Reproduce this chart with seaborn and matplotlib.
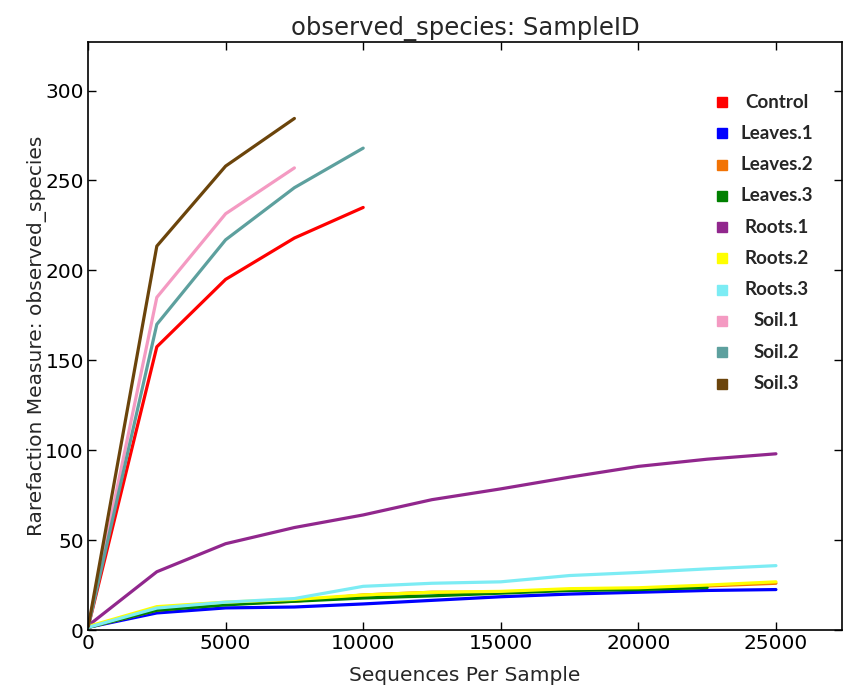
import pandas as pd
import seaborn as sns
import matplotlib.pyplot as plt

# rarefaction depths (sequences per sample)
depths = [10, 2500, 5000, 7500, 10000, 12500, 15000, 17500, 20000, 22500, 25000]

samples = ["Control", "Leaves.1", "Leaves.2", "Leaves.3", "Roots.1",
           "Roots.2", "Roots.3", "Soil.1", "Soil.2", "Soil.3"]
colors = ["#ff0000", "#0000ff", "#f27304", "#008000", "#91278d",
          "#ffff00", "#7cecf4", "#f49ac2", "#5da09e", "#6b440b"]

control = [2, 157.5, 195, 218, 235]
leaves_1 = [1.5, 9.5, 12.3, 12.8, 14.5, 16.5, 18.5, 20, 21, 22, 22.5]
leaves_2 = [1.5, 11, 14.5, 16, 19.5, 21, 21, 22.5, 23, 24.5, 26]
leaves_3 = [1.5, 11, 14, 16, 17.8, 19, 20.5, 22, 22.5, 23.6]
roots_1 = [2.5, 32.4, 48, 57, 64, 72.5, 78.5, 85, 91, 95, 98]
roots_2 = [2, 13, 15.5, 17, 19.5, 21, 21.5, 23, 23.5, 25, 26.8]
roots_3 = [1.5, 12.2, 15.5, 17.5, 24.3, 26, 26.8, 30.3, 32, 34, 35.8]
soil_1 = [2, 185, 231.5, 257]
soil_2 = [2, 170, 217, 246, 268]
soil_3 = [2, 213.5, 258, 284.5]

series = [control, leaves_1, leaves_2, leaves_3, roots_1,
          roots_2, roots_3, soil_1, soil_2, soil_3]

rows = []
for name, vals in zip(samples, series):
    for d, v in zip(depths, vals):
        rows.append({"SampleID": name, "depth": d, "observed": v})
df = pd.DataFrame(rows)

sns.set_style("ticks")
plt.rcParams["font.family"] = ["DejaVu Sans"]

fig = plt.figure(figsize=(8.44, 6.89), dpi=100)
ax = fig.add_axes([0.1043, 0.0856, 0.8933, 0.8534])

sns.lineplot(data=df, x="depth", y="observed", hue="SampleID",
             hue_order=samples, palette=dict(zip(samples, colors)),
             estimator=None, sort=False, linewidth=2.3, legend=False, ax=ax)

ax.set_xlim(0, 27400)
ax.set_ylim(0, 327)
ax.set_xticks([0, 5000, 10000, 15000, 20000, 25000])
ax.set_yticks([0, 50, 100, 150, 200, 250, 300])
ax.tick_params(direction="in", top=True, right=True, length=6, width=1,
               labelsize=14.5, colors="black", pad=3)
for s in ax.spines.values():
    s.set_visible(True)
    s.set_linewidth(1.2)
    s.set_color("black")

ax.set_title("observed_species: SampleID", fontsize=17.5, pad=5)
ax.set_xlabel("Sequences Per Sample", fontsize=14.5, labelpad=9)
ax.set_ylabel("Rarefaction Measure: observed_species", fontsize=14.5, labelpad=-1)

# legend drawn by hand: square swatch + centred bold label
leg_font = {"family": "Lato", "weight": "bold", "size": 13.5}
for i, (name, c) in enumerate(zip(samples, colors)):
    yy = 0.898 - i * 0.0532
    ax.plot([0.841], [yy], marker="s", markersize=7.5, color=c,
            linestyle="", transform=ax.transAxes, clip_on=False)
    ax.text(0.913, yy, name, ha="center", va="center",
            transform=ax.transAxes, fontdict=leg_font)

fig.savefig("out.png", dpi=100)
